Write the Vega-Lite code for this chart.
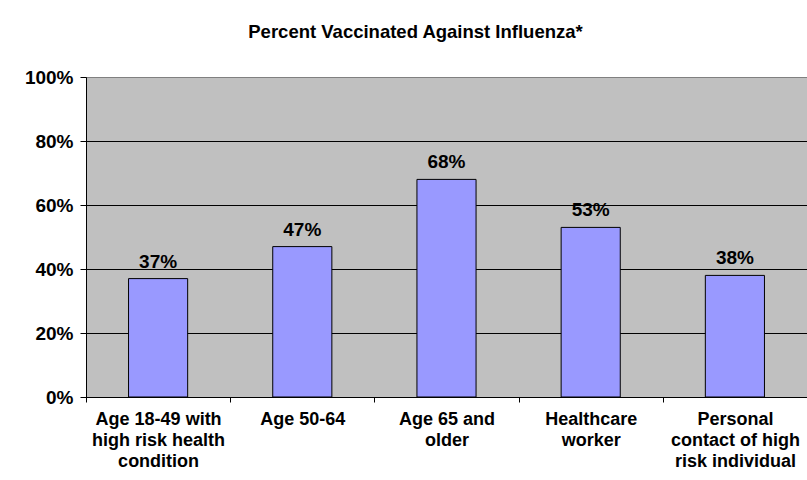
{
  "$schema": "https://vega.github.io/schema/vega-lite/v6.json",
  "autosize": "none",
  "width": 721,
  "height": 320,
  "padding": {"left": 86, "top": 77, "right": 0, "bottom": 83},
  "background": "white",
  "title": {
    "text": "Percent Vaccinated Against Influenza*",
    "font": "Liberation Sans",
    "fontSize": 18.5,
    "fontWeight": "bold",
    "color": "black",
    "anchor": "middle",
    "frame": "group",
    "offset": 27,
    "dx": -31
  },
  "data": {
    "values": [
      {"group": "Age 18-49 with|high risk health|condition", "pct": 0.37},
      {"group": "Age 50-64", "pct": 0.47},
      {"group": "Age 65 and|older", "pct": 0.68},
      {"group": "Healthcare|worker", "pct": 0.53},
      {"group": "Personal|contact of high|risk individual", "pct": 0.38}
    ]
  },
  "encoding": {
    "x": {
      "field": "group",
      "type": "nominal",
      "sort": null,
      "scale": {"paddingInner": 0, "paddingOuter": 0},
      "axis": {
        "title": null,
        "labelAngle": 0,
        "labelExpr": "isValid(datum.value) ? split(datum.value, '|') : ''",
        "labelFont": "Liberation Sans",
        "labelFontSize": 18,
        "labelFontWeight": "bold",
        "labelColor": "black",
        "labelLineHeight": 21,
        "labelPadding": 8,
        "labelLimit": 200,
        "tickBand": "extent",
        "tickSize": 5,
        "tickColor": "black",
        "domainColor": "black",
        "grid": false
      }
    },
    "y": {
      "field": "pct",
      "type": "quantitative",
      "scale": {"domain": [0, 1]},
      "axis": {
        "title": null,
        "values": [0, 0.2, 0.4, 0.6, 0.8, 1],
        "format": ".0%",
        "labelFont": "Liberation Sans",
        "labelFontSize": 19,
        "labelFontWeight": "bold",
        "labelColor": "black",
        "labelPadding": 7,
        "tickSize": 6,
        "tickColor": "black",
        "domainColor": "black",
        "grid": true,
        "gridColor": {"condition": {"test": "datum.value == 1", "value": "#808080"}, "value": "black"},
        "gridOpacity": 1
      }
    }
  },
  "layer": [
    {
      "mark": {"type": "bar", "width": {"band": 0.41}, "color": "#9999FF", "stroke": "black", "strokeWidth": 1}
    },
    {
      "mark": {"type": "text", "baseline": "alphabetic", "dy": -11, "font": "Liberation Sans", "fontSize": 19, "fontWeight": "bold", "color": "black"},
      "encoding": {"text": {"field": "pct", "type": "quantitative", "format": ".0%"}}
    }
  ],
  "config": {
    "view": {"fill": "#C0C0C0", "stroke": "#808080", "strokeWidth": 1}
  }
}
